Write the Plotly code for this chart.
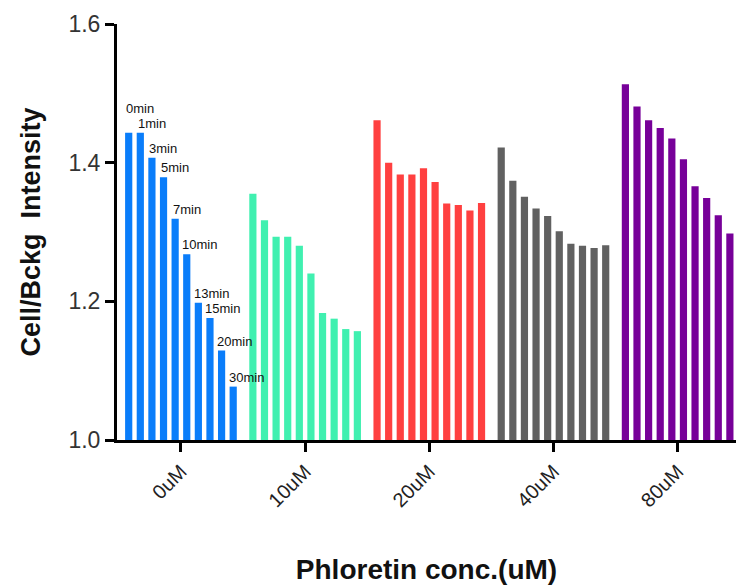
import plotly.graph_objects as go

groups = ["0uM", "10uM", "20uM", "40uM", "80uM"]
times = ["0min", "1min", "3min", "5min", "7min", "10min", "13min", "15min", "20min", "30min"]
group_colors = ["#0A7DFA", "#40F0B0", "#FF4040", "#616161", "#770099"]

v_0uM = [1.443, 1.443, 1.407, 1.379, 1.319, 1.268, 1.198, 1.176, 1.129, 1.077]
v_10uM = [1.355, 1.317, 1.293, 1.293, 1.280, 1.240, 1.183, 1.175, 1.160, 1.157]
v_20uM = [1.461, 1.400, 1.383, 1.383, 1.392, 1.372, 1.341, 1.339, 1.331, 1.342]
v_40uM = [1.422, 1.374, 1.351, 1.334, 1.323, 1.301, 1.283, 1.280, 1.277, 1.281]
v_80uM = [1.513, 1.481, 1.461, 1.450, 1.435, 1.405, 1.366, 1.349, 1.324, 1.298]
series = [v_0uM, v_10uM, v_20uM, v_40uM, v_80uM]
BASE = 1.0

BARGAP = 0.065
BARGROUPGAP = 0.38

fig = go.Figure()
for i, t in enumerate(times):
    fig.add_trace(go.Bar(
        x=groups,
        y=[s[i] - BASE for s in series],
        base=BASE,
        name=t,
        marker=dict(color=group_colors, line=dict(width=0)),
        showlegend=False,
    ))

# time labels above the 0uM bars
n = len(times)
slot = (1 - BARGAP) / n
annotations = []
for i, t in enumerate(times):
    left = -(1 - BARGAP) / 2 + i * slot + slot * BARGROUPGAP / 2
    annotations.append(dict(
        x=left, y=v_0uM[i], xref="x", yref="y",
        text=t, showarrow=False, xanchor="left", yanchor="bottom",
        xshift=-3 if i > 4 else -1,
        yshift=15 if i == 0 else 0,
        font=dict(family="Liberation Sans, Arial", size=13, color="#111111"),
    ))

fig.update_layout(
    width=736, height=585,
    margin=dict(l=117, r=0, t=24, b=145),
    paper_bgcolor="white", plot_bgcolor="white",
    barmode="group", bargap=BARGAP, bargroupgap=BARGROUPGAP,
    annotations=annotations,
    font=dict(family="Liberation Sans, Arial", color="#222222"),
)
fig.update_xaxes(
    range=[-0.515, 4.47],
    showline=True, linecolor="black", linewidth=3,
    ticks="outside", ticklen=9, tickwidth=3, tickcolor="black",
    tickangle=-45, tickfont=dict(size=20, color="#222222"),
    showgrid=False, zeroline=False,
    title=dict(text="<b>Phloretin conc.(uM)</b>", font=dict(size=28, color="#111111"), standoff=52),
)
fig.update_yaxes(
    range=[1.0, 1.6],
    tickvals=[1.0, 1.2, 1.4, 1.6], ticktext=["1.0", "1.2", "1.4", "1.6"],
    showline=True, linecolor="black", linewidth=3,
    ticks="outside", ticklen=9, tickwidth=3, tickcolor="black",
    tickfont=dict(size=23, color="#333333"),
    showgrid=False, zeroline=False,
    title=dict(text="<b>Cell/Bckg  Intensity</b>", font=dict(size=27, color="#111111"), standoff=20),
)

fig.write_html("out.html")
